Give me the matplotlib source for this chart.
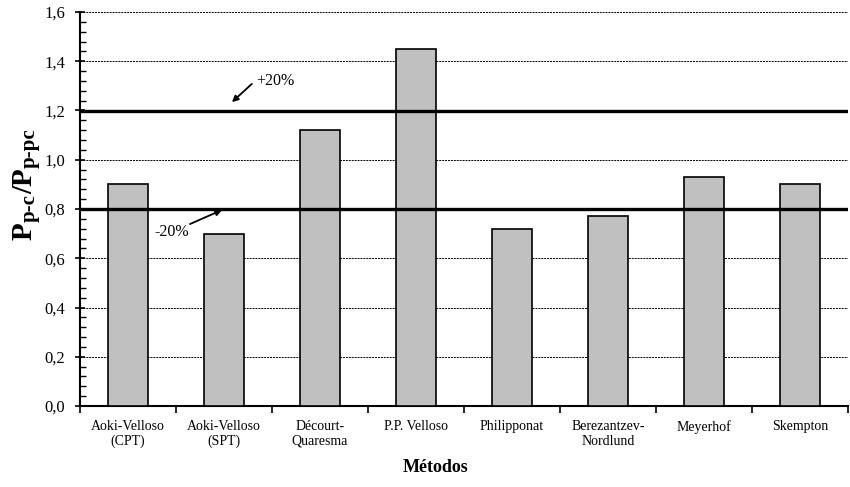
import matplotlib
matplotlib.use("Agg")
import matplotlib.pyplot as plt
from matplotlib.ticker import MultipleLocator, FuncFormatter

methods = ["Aoki-Velloso\n(CPT)", "Aoki-Velloso\n(SPT)", "Décourt-\nQuaresma", "P.P. Velloso",
           "Philipponat", "Berezantzev-\nNordlund", "Meyerhof", "Skempton"]
ratios = [0.90, 0.70, 1.12, 1.45, 0.72, 0.77, 0.93, 0.90]
limits = [0.8, 1.2]
grid_levels = [0.2, 0.4, 0.6, 1.0, 1.4, 1.6]

plt.rcParams['font.family'] = ['Liberation Serif', 'DejaVu Serif']

W, H = 850, 487
fig = plt.figure(figsize=(W / 100, H / 100), dpi=100)
ax = fig.add_axes([80 / W, 1 - 406 / H, 768 / W, 394 / H])

x = list(range(len(methods)))
ax.bar(x, ratios, width=0.42, color='#c0c0c0', edgecolor='black', linewidth=1.2, zorder=3)

ax.set_xlim(-0.5, len(methods) - 0.5)
ax.set_ylim(0, 1.6)

for yv in grid_levels:
    ax.axhline(yv, color='black', linestyle=(0, (2, 1)), linewidth=0.7, zorder=1)
for yv in limits:
    ax.axhline(yv, color='black', linestyle='-', linewidth=2.4, zorder=4)

ax.yaxis.set_major_locator(MultipleLocator(0.2))
ax.yaxis.set_minor_locator(MultipleLocator(0.04))
ax.yaxis.set_major_formatter(FuncFormatter(lambda v, p: f"{v:.1f}".replace('.', ',')))
ax.tick_params(axis='y', which='major', direction='inout', length=7, width=1.2, labelsize=12, pad=7)
ax.tick_params(axis='y', which='minor', direction='in', length=4, width=1.0)

ax.set_xticks(x)
ax.set_xticklabels(methods, fontsize=10)
ax.tick_params(axis='x', which='major', length=0, pad=10)
ax.set_xticks([i - 0.5 for i in range(len(methods) + 1)], minor=True)
ax.tick_params(axis='x', which='minor', direction='out', length=5, width=1.2)

for s in ['top', 'right']:
    ax.spines[s].set_visible(False)
for s in ['left', 'bottom']:
    ax.spines[s].set_linewidth(1.5)

fig.text(436 / W, 1 - 467 / H, "Métodos", fontsize=13, fontweight='bold', ha='center', va='center')

# annotations
ax.annotate("", xy=(1.083, 1.234), xytext=(1.29, 1.308),
            arrowprops=dict(arrowstyle='-|>', color='black', lw=1.3, mutation_scale=9,
                            shrinkA=0, shrinkB=0), zorder=6)
ax.text(1.335, 1.318, "+20%", fontsize=11.5, ha='left', va='center')
ax.annotate("", xy=(0.979, 0.796), xytext=(0.646, 0.739),
            arrowprops=dict(arrowstyle='-|>', color='black', lw=1.3, mutation_scale=9,
                            shrinkA=0, shrinkB=0), zorder=6)
ax.text(0.46, 0.705, "-20%", fontsize=11.5, ha='center', va='center')

# y-axis label built from pieces (main letters + subscripts)
pieces = [("P", 21, 0), ("p-c", 15, 1), ("/", 21, 0), ("P", 21, 0), ("p-pc", 15, 1)]
fig.canvas.draw()
renderer = fig.canvas.get_renderer()
texts = []
for s, fs, sub in pieces:
    t = fig.text(0, 0, s, fontsize=fs, fontweight='bold', rotation=90,
                 rotation_mode='anchor', ha='left', va='baseline')
    texts.append((t, sub))
lengths = [t.get_window_extent(renderer).height for t, _ in texts]
total = sum(lengths)
cy = H - 184
ypos = cy - total / 2
for (t, sub), L in zip(texts, lengths):
    bx = 35 if sub else 32
    t.set_position((bx / W, ypos / H))
    ypos += L

fig.savefig("out.png", dpi=100)
